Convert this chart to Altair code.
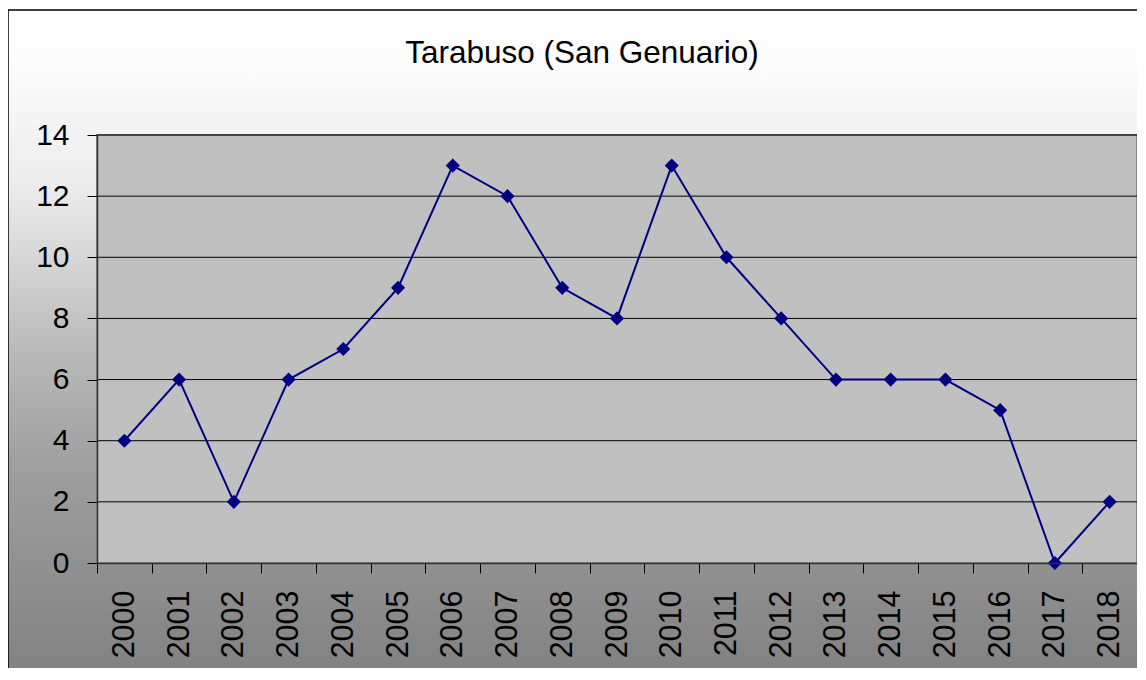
import altair as alt
import pandas as pd

years = [str(y) for y in range(2000, 2019)]
values = [4, 6, 2, 6, 7, 9, 13, 12, 9, 8, 13, 10, 8, 6, 6, 6, 5, 0, 2]
grid_values = [2, 4, 6, 8, 10, 12, 14]
y_ticks = [0, 2, 4, 6, 8, 10, 12, 14]
title_text = "Tarabuso (San Genuario)"

W, H = 1040, 428
FONT = "Liberation Sans"

df = pd.DataFrame({"year": years, "value": values})
gdf = pd.DataFrame({"g": grid_values})
one = pd.DataFrame({"a": [0]})

grad = alt.LinearGradient(
    gradient="linear",
    stops=[
        alt.GradientStop(offset=0.0, color="#ffffff"),
        alt.GradientStop(offset=0.07, color="#fcfcfc"),
        alt.GradientStop(offset=0.16, color="#f3f3f3"),
        alt.GradientStop(offset=0.24, color="#ebebeb"),
        alt.GradientStop(offset=0.45, color="#bababa"),
        alt.GradientStop(offset=0.60, color="#a0a0a0"),
        alt.GradientStop(offset=0.80, color="#8a8a8a"),
        alt.GradientStop(offset=0.90, color="#808080"),
        alt.GradientStop(offset=1.0, color="#787878"),
    ],
    x1=0, x2=0, y1=0, y2=1,
)

bg = alt.Chart(one).mark_rect(fill=grad, stroke="black", strokeWidth=1.5).encode(
    x=alt.value(-89), x2=alt.value(W + 60), y=alt.value(-125), y2=alt.value(H + 200)
)

plotbg = alt.Chart(one).mark_rect(fill="#c0c0c0", stroke="#888888", strokeWidth=2).encode(
    x=alt.value(0), x2=alt.value(W), y=alt.value(0), y2=alt.value(H)
)

title = alt.Chart(one).mark_text(
    text=title_text, font=FONT, fontSize=31.5, color="black", align="center", baseline="alphabetic"
).encode(x=alt.value(W / 2 - 35), y=alt.value(-72))

yscale = alt.Scale(domain=[0, 14], nice=False, zero=True)
yaxis = alt.Axis(
    title=None, values=y_ticks, tickSize=10, tickColor="black",
    domainColor="#333333", domainWidth=1.5, labelPadding=18, labelFont=FONT,
    labelFontSize=30, labelColor="black", grid=False, zindex=1,
)

grid = alt.Chart(gdf).mark_rule(color="black", strokeWidth=1).encode(
    y=alt.Y("g:Q", scale=yscale, axis=yaxis)
)

xenc = alt.X(
    "year:O",
    scale=alt.Scale(type="band", paddingInner=0, paddingOuter=0),
    sort=years,
    axis=alt.Axis(
        title=None, labelAngle=-90, labelAlign="right", labelBaseline="middle",
        tickBand="extent", ticks=True, tickSize=10, tickColor="black", tickWidth=1,
        domainColor="#333333", domainWidth=1.5, labelPadding=17,
        labelFont=FONT, labelFontSize=30.5, labelColor="black", grid=False, zindex=1,
    ),
    bandPosition=0.5,
)
yenc = alt.Y("value:Q", scale=yscale, axis=yaxis)

line = alt.Chart(df).mark_line(color="#000080", strokeWidth=2).encode(x=xenc, y=yenc)
pts = alt.Chart(df).mark_point(shape="diamond", filled=True, color="#000080", size=200, opacity=1).encode(
    x=xenc, y=yenc
)

chart = alt.layer(bg, plotbg, title, grid, line, pts).properties(
    width=W,
    height=H,
    autosize=alt.AutoSizeParams(type="none"),
    padding={"left": 89, "top": 127, "right": 0, "bottom": 105},
).configure_view(stroke=None).configure(background="white")

chart.save("out.html", embed_options={"renderer": "svg", "actions": False})
